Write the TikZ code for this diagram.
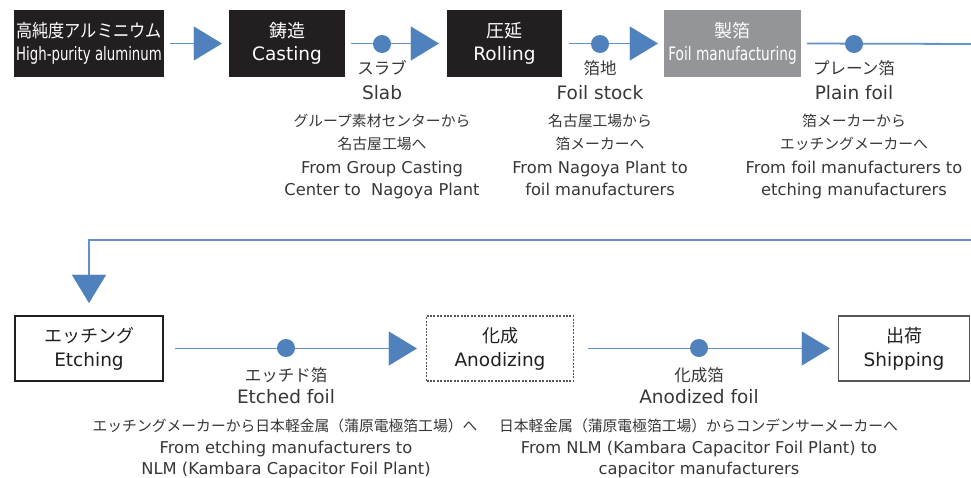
\documentclass[tikz,border=0pt]{standalone}
\usepackage{fontspec}
\usepackage{graphicx}
\setmainfont{DejaVu Sans}
\newfontfamily\jp{Noto Sans CJK JP}
\usetikzlibrary{arrows.meta}
\definecolor{flowblue}{RGB}{79,129,189}
\definecolor{linkblue}{RGB}{100,144,204}
\definecolor{boxblack}{RGB}{35,31,32}
\definecolor{boxgray}{RGB}{147,149,152}
\definecolor{txtgray}{RGB}{55,55,55}
\definecolor{edgegray}{RGB}{85,85,85}
\begin{document}
\begin{tikzpicture}[x=1pt,y=-1pt,
  box/.style={rectangle, minimum height=67pt, inner sep=0pt},
  darkbox/.style={box, fill=boxblack},
  graybox/.style={box, fill=boxgray},
  thickbox/.style={box, draw=boxblack, line width=2.2pt, minimum height=65pt},
  dotbox/.style={box, draw=edgegray, line width=1.4pt, dash pattern=on 2pt off 1.4pt, minimum height=65pt},
  plainbox/.style={box, draw=edgegray, line width=1.4pt, minimum height=65pt},
  flow/.style={draw=linkblue, line width=1.8pt,
    -{Triangle[length=28pt,width=34pt,fill=flowblue,color=flowblue,line width=0.01pt]}},
  flowline/.style={draw=linkblue, line width=1.8pt},
  dot/.style={circle, fill=flowblue, minimum size=18pt, inner sep=0pt},
  txt/.style={anchor=base, inner sep=0pt},
  bjp/.style={txt, font=\jp\fontsize{18}{20}\selectfont},
  blat/.style={txt, font=\fontsize{18.5}{20}\selectfont},
  ljp/.style={txt, text=txtgray, font=\jp\fontsize{16.5}{18}\selectfont},
  llat/.style={txt, text=txtgray, font=\fontsize{18.5}{20}\selectfont},
  djp/.style={txt, text=txtgray, font=\jp\fontsize{14.8}{16}\selectfont},
  dlat/.style={txt, text=txtgray, font=\fontsize{16.3}{18}\selectfont},
]
\useasboundingbox[fill=white] (0,0) rectangle (971,477);

% ---- boxes ----
\node[darkbox, minimum width=150pt] (b1) at (89,43.5) {};
\node[darkbox, minimum width=116pt] (b2) at (287,43.5) {};
\node[darkbox, minimum width=115pt] (b3) at (504.5,43.5) {};
\node[graybox, minimum width=137pt] (b4) at (732.5,43.5) {};
\node[thickbox, minimum width=148pt] (b5) at (89,348.5) {};
\node[dotbox, minimum width=147pt] (b6) at (500,348.5) {};
\node[plainbox, minimum width=131pt] (b7) at (904,348.5) {};

% ---- box texts ----
\node[bjp, text=white] (t1a) at (89,37) {\scalebox{0.9}[1]{高純度アルミニウム}};
\node[blat, text=white] (t1b) at (89,60) {\scalebox{0.72}[1]{High-purity aluminum}};
\node[bjp, text=white] (t2a) at (287,37) {鋳造};
\node[blat, text=white] (t2b) at (287,60.5) {Casting};
\node[bjp, text=white] (t3a) at (504.5,37) {圧延};
\node[blat, text=white] (t3b) at (504.5,60.5) {Rolling};
\node[bjp, text=white] (t4a) at (732.5,37) {製箔};
\node[blat, text=white] (t4b) at (732.5,60.5) {\scalebox{0.74}[1]{Foil manufacturing}};
\node[bjp, text=boxblack] (t5a) at (89,342) {エッチング};
\node[blat, text=boxblack] (t5b) at (89,366) {Etching};
\node[bjp, text=boxblack] (t6a) at (500,342) {化成};
\node[blat, text=boxblack] (t6b) at (500,366) {Anodizing};
\node[bjp, text=boxblack] (t7a) at (904,342) {出荷};
\node[blat, text=boxblack] (t7b) at (904,366) {Shipping};

% ---- connectors ----
\coordinate (e1) at (976,44);
\coordinate (e2) at (976,240);
\draw[flow] ([xshift=6pt]b1.east) -- ([xshift=-7pt]b2.west);
\draw[flow] ([xshift=6pt]b2.east) -- ([xshift=-8pt]b3.west);
\draw[flow] ([xshift=7pt]b3.east) -- ([xshift=-6pt]b4.west);
\draw[flow] ([xshift=6pt]b4.east) -- (e1) -- (e2) -| ([yshift=12pt]b5.north);
\draw[flow] ([xshift=11pt]b5.east) -- ([xshift=-9pt]b6.west);
\draw[flow] ([xshift=14pt]b6.east) -- ([xshift=-8pt]b7.west);

% ---- dots ----
\node[dot] (d1) at (382,44) {};
\node[dot] (d2) at (600,44) {};
\node[dot] (d3) at (854,44) {};
\node[dot] (d4) at (286,348) {};
\node[dot] (d5) at (699,348) {};

% ---- labels ----
\node[ljp] (l1a) at (382,74) {スラブ};
\node[llat] (l1b) at (382,99) {Slab};
\node[djp] (l1c) at (382,126) {グループ素材センターから};
\node[djp] (l1d) at (382,149) {名古屋工場へ};
\node[dlat] (l1e) at (382,173) {From Group Casting};
\node[dlat] (l1f) at (382,195) {Center to\ \ Nagoya Plant};

\node[ljp] (l2a) at (600,74) {箔地};
\node[llat] (l2b) at (600,99) {Foil stock};
\node[djp] (l2c) at (600,126) {名古屋工場から};
\node[djp] (l2d) at (600,149) {箔メーカーへ};
\node[dlat] (l2e) at (600,173) {From Nagoya Plant to};
\node[dlat] (l2f) at (600,195) {foil manufacturers};

\node[ljp] (l3a) at (854,74) {プレーン箔};
\node[llat] (l3b) at (854,99) {Plain foil};
\node[djp] (l3c) at (854,126) {箔メーカーから};
\node[djp] (l3d) at (854,149) {エッチングメーカーへ};
\node[dlat] (l3e) at (854,173) {From foil manufacturers to};
\node[dlat] (l3f) at (854,195) {etching manufacturers};

\node[ljp] (l4a) at (286,381) {エッチド箔};
\node[llat] (l4b) at (286,403) {Etched foil};
\node[djp] (l4c) at (285,431) {エッチングメーカーから日本軽金属（蒲原電極箔工場）へ};
\node[dlat] (l4d) at (286,453) {From etching manufacturers to};
\node[dlat] (l4e) at (286,474) {NLM (Kambara Capacitor Foil Plant)};

\node[ljp] (l5a) at (699,381) {化成箔};
\node[llat] (l5b) at (699,403) {Anodized foil};
\node[djp] (l5c) at (698.5,431) {日本軽金属（蒲原電極箔工場）からコンデンサーメーカーへ};
\node[dlat] (l5d) at (699,453) {From NLM (Kambara Capacitor Foil Plant) to};
\node[dlat] (l5e) at (699,474) {capacitor manufacturers};
\end{tikzpicture}
\end{document}
